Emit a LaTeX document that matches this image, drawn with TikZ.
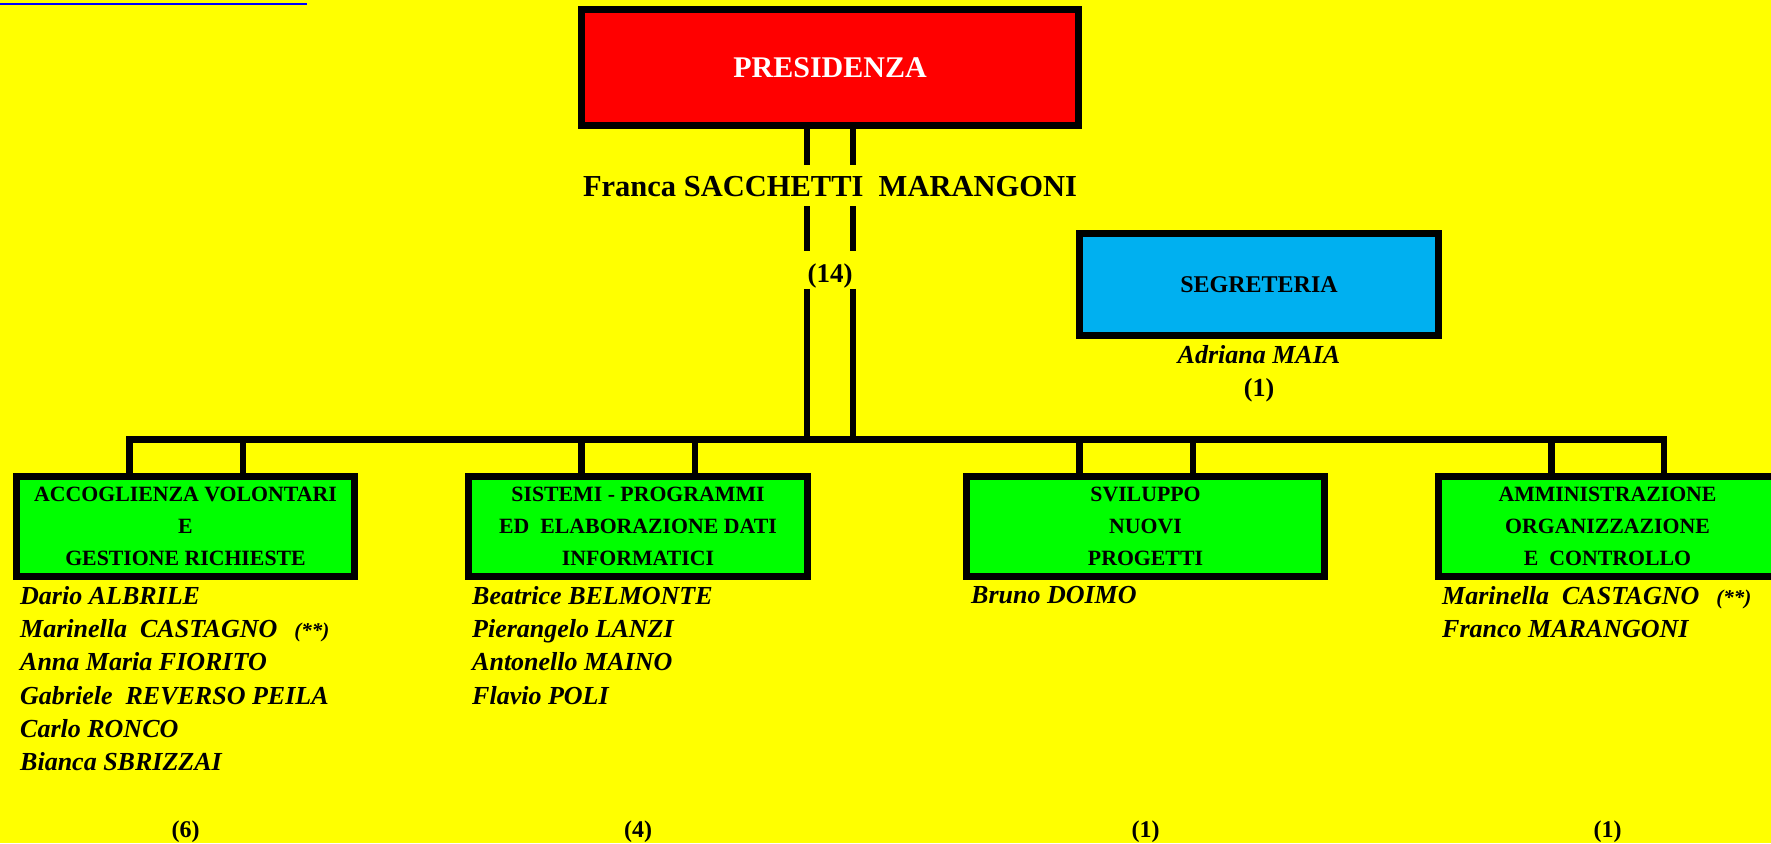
\documentclass[tikz,border=0pt]{standalone}
\usepackage{fontspec}
\setmainfont{Liberation Serif}
\usetikzlibrary{positioning}
\definecolor{bgyellow}{RGB}{255,255,0}
\definecolor{presred}{RGB}{255,0,0}
\definecolor{segblue}{RGB}{0,176,240}
\definecolor{unitgreen}{RGB}{0,255,0}
\definecolor{linkblue}{RGB}{0,0,255}
\tikzstyle{headbox} = [rectangle, line width=7pt, draw=black, fill=presred, text=white, minimum width=497pt, minimum height=116pt, font=\fontsize{30}{36}\selectfont\bfseries]
\tikzstyle{segbox} = [rectangle, line width=7pt, draw=black, fill=segblue, minimum width=359pt, minimum height=102pt, font=\fontsize{24}{28}\selectfont\bfseries]
\tikzstyle{office} = [rectangle, line width=7pt, draw=black, fill=unitgreen, minimum width=338pt, minimum height=100pt, align=center, inner sep=0pt, font=\fontsize{21.8}{32}\selectfont\bfseries]
\tikzstyle{staff} = [inner sep=0pt, align=left, font=\fontsize{26}{33.3}\selectfont\bfseries\itshape]
\tikzstyle{chief} = [inner xsep=0pt, inner ysep=10pt, text height=21pt, text depth=0pt, font=\fontsize{30.5}{36}\selectfont\bfseries]
\tikzstyle{tally} = [inner sep=0pt, font=\fontsize{24}{28}\selectfont\bfseries]
\tikzstyle{wire} = [line width=6.5pt]
\newcommand{\starnote}{{\fontsize{21}{21}\selectfont(**)}}
\begin{document}
\begin{tikzpicture}[x=1pt, y=-1pt, node distance=107pt]

\path [use as bounding box, fill=bgyellow] (0,0) rectangle (1771,843);
\draw [linkblue, line width=1.7pt] (0,3.8) -- (307,3.8);

\node (pres) [headbox] at (830,67.5) {PRESIDENZA};
\node (franca) [chief, below=36pt of pres] {Franca SACCHETTI\ \ MARANGONI};
\node (tot) [tally, below=45pt of franca, text height=25pt, text depth=0pt, inner ysep=6pt, font=\fontsize{27}{30}\selectfont\bfseries] {(14)};

\node (segr) [segbox] at (1259,284.5) {SEGRETERIA};
\node (maia) [staff, below=6pt of segr, font=\fontsize{26}{30}\selectfont\bfseries\itshape] {Adriana MAIA};
\node (segtot) [tally, below=15pt of maia, font=\fontsize{26}{30}\selectfont\bfseries] {(1)};

\node (acc) [office] at (185.5,526.5) {ACCOGLIENZA VOLONTARI\\E\\GESTIONE RICHIESTE};
\node (sist) [office, minimum width=339pt, right=of acc] {SISTEMI - PROGRAMMI\\ED\ \ ELABORAZIONE DATI\\INFORMATICI};
\node (svil) [office, minimum width=358pt, right=152pt of sist] {SVILUPPO\\NUOVI\\PROGETTI};
\node (amm) [office, right=of svil] {AMMINISTRAZIONE\\ORGANIZZAZIONE\\E\ \ CONTROLLO};

\node (accstaff) [staff, below=6pt of acc.south west, anchor=north west, xshift=7pt] {Dario ALBRILE\\Marinella\ \ CASTAGNO\hspace{17pt}\starnote\\Anna Maria FIORITO\\Gabriele\ \ REVERSO PEILA\\Carlo RONCO\\Bianca SBRIZZAI};
\node (siststaff) [staff, below=6pt of sist.south west, anchor=north west, xshift=7pt] {Beatrice BELMONTE\\Pierangelo LANZI\\Antonello MAINO\\Flavio POLI};
\node (svilstaff) [staff, below=6pt of svil.south west, anchor=north west, xshift=8pt] {Bruno DOIMO};
\node (ammstaff) [staff, below=6pt of amm.south west, anchor=north west, xshift=7pt] {Marinella\ \ CASTAGNO\hspace{17pt}\starnote\\Franco MARANGONI};

\coordinate (tallyline) at (0,837);
\node (acctot) [tally, anchor=base] at (acc |- tallyline) {(6)};
\node (sisttot) [tally, anchor=base] at (sist |- tallyline) {(4)};
\node (sviltot) [tally, anchor=base] at (svil |- tallyline) {(1)};
\node (ammtot) [tally, anchor=base] at (amm |- tallyline) {(1)};

\coordinate (bus) at (830,439.5);
\coordinate (tl) at (807,0);
\coordinate (tr) at (853,0);

\draw [wire] (pres.south -| tl) -- (franca.north -| tl);
\draw [wire] (pres.south -| tr) -- (franca.north -| tr);
\draw [wire] (franca.south -| tl) -- (tot.north -| tl);
\draw [wire] (franca.south -| tr) -- (tot.north -| tr);
\draw [wire] (tot.south -| tl) -- (bus -| tl);
\draw [wire] (tot.south -| tr) -- (bus -| tr);

\draw [wire] ([xshift=116.5pt]acc.north west) |- (bus);
\draw [wire] ([xshift=230pt]acc.north west) |- (bus);
\draw [wire] ([xshift=116.5pt]sist.north west) |- (bus);
\draw [wire] ([xshift=230pt]sist.north west) |- (bus);
\draw [wire] ([xshift=116.5pt]svil.north west) |- (bus);
\draw [wire] ([xshift=230pt]svil.north west) |- (bus);
\draw [wire] ([xshift=116.5pt]amm.north west) |- (bus);
\draw [wire] ([xshift=229pt]amm.north west) |- (bus);

\end{tikzpicture}
\end{document}
